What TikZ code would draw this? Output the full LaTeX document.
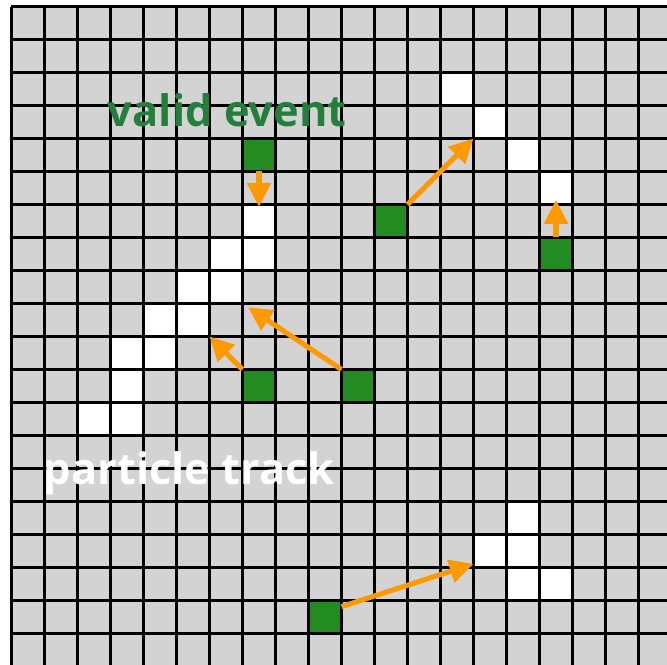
\documentclass[tikz,border=0pt]{standalone}
\usepackage{fontspec}
\setsansfont{Open Sans}
\usepackage{tikz}
\usetikzlibrary{arrows.meta}
\definecolor{cellgray}{HTML}{D3D3D3}
\definecolor{seedgreen}{HTML}{228B22}
\definecolor{textgreen}{HTML}{237F3B}
\definecolor{arrorange}{HTML}{FF9900}

\begin{document}
\begin{tikzpicture}[
    x=0.5cm, y=-0.5cm,
    cell/.style={inner sep=0pt, outer sep=0pt, minimum size=0.5cm},
    hit/.style={cell, fill=white},
    seed/.style={cell, fill=seedgreen},
    mv/.style={draw=arrorange, line width=2.2pt, -{Triangle[length=10.3pt, width=10pt]}},
    lbl/.style={font=\sffamily\bfseries\fontsize{18.7}{20}\selectfont, inner sep=0pt, anchor=base west}
  ]
  \useasboundingbox (-0.3485,-0.197) rectangle (19.864,19.955);
  \clip (-0.3485,-0.197) rectangle (19.864,19.955);
  \fill[cellgray] (0,0) rectangle (20,20);

  % track cells
  \foreach \c/\r [count=\k] in {13/2, 14/3, 15/4, 16/5}
    \node[hit] (a\k) at (\c+0.5,\r+0.5) {};
  \foreach \c/\r [count=\k] in {7/6, 6/7, 7/7, 5/8, 6/8, 4/9, 5/9, 3/10, 4/10, 3/11, 2/12, 3/12}
    \node[hit] (b\k) at (\c+0.5,\r+0.5) {};
  \foreach \c/\r [count=\k] in {15/15, 14/16, 15/16, 15/17, 16/17}
    \node[hit] (c\k) at (\c+0.5,\r+0.5) {};

  % seed cells
  \node[seed] (s1) at (7.5,4.5) {};
  \node[seed] (s2) at (11.5,6.5) {};
  \node[seed] (s3) at (16.5,7.5) {};
  \node[seed] (s4) at (7.5,11.5) {};
  \node[seed] (s5) at (10.5,11.5) {};
  \node[seed] (s6) at (9.5,18.5) {};

  % grid
  \foreach \i in {0,...,20} {
    \draw[line width=0.9pt] (\i,0) -- (\i,20);
    \draw[line width=0.9pt] (0,\i) -- (20,\i);
  }

  % labels
  \node[lbl, text=textgreen] (valid) at (2.91,3.65) {valid event};
  \node[lbl, text=white] (track) at (0.97,14.5) {particle track};

  % moves
  \draw[mv, shorten >=-0.035cm] (s1.south) -- (b1.north);
  \draw[mv] (s2.north east) -- (a2.south west);
  \draw[mv, shorten >=-0.07cm] (s3.north) -- (a4.south);
  \draw[mv] (s4.north west) -- (b7.south east);
  \draw[mv, shorten >=0.1cm] (s5.north west) -- (b5.south east);
  \draw[mv] (s6.32) -- (c2.218);
\end{tikzpicture}
\end{document}
